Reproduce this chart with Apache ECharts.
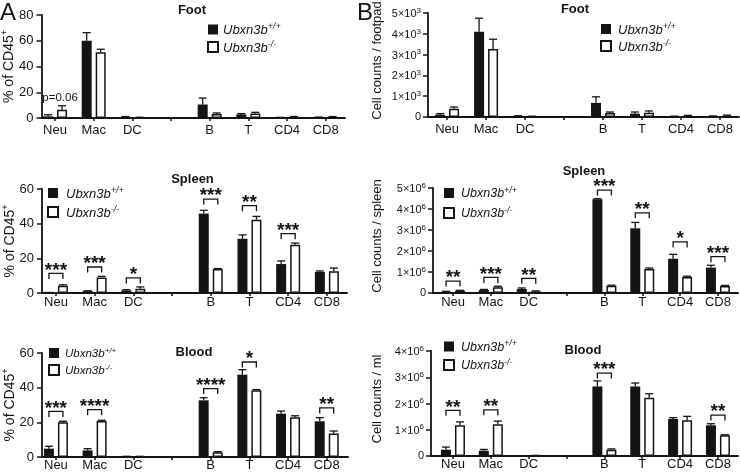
<!DOCTYPE html>
<html><head><meta charset="utf-8">
<script src="https://cdn.jsdelivr.net/npm/echarts@6/dist/echarts.min.js"></script>
<style>html,body{margin:0;padding:0;background:#fff}#c{width:740px;height:474px}</style>
</head><body><div id="c"></div>
<script>
// ---------- DATA ----------
const categories = ['Neu', 'Mac', 'DC', '', 'B', 'T', 'CD4', 'CD8'];
const genotypes = ['Ubxn3b+/+', 'Ubxn3b-/-'];

// Foot, % of CD45+
const footPctWT    = [1.3, 60, 0.8, 10.5, 2.8, 0.3, 0.5];
const footPctWTErr = [1.2, 6.3, 0.3, 5.0, 0.6, 0.2, 0.2];
const footPctKO    = [6.5, 51, 0.4, 3.1, 3.4, 0.9, 0.8];
const footPctKOErr = [3.0, 2.4, 0.2, 0.8, 1.0, 0.3, 0.3];
const footPctSig   = [['Neu', 15.5, 'p=0.06', false]];

// Foot, cell counts / footpad
const footCntWT    = [110, 4100, 50, 680, 160, 30, 40];
const footCntWTErr = [50, 650, 10, 290, 80, 10, 10];
const footCntKO    = [400, 3270, 30, 190, 210, 60, 70];
const footCntKOErr = [80, 470, 10, 50, 80, 20, 20];
const footCntSig   = [];

// Spleen, % of CD45+
const spleenPctWT    = [0.2, 1.1, 1.5, 45.8, 31.3, 16.7, 12.1];
const spleenPctWTErr = [0.1, 0.2, 0.4, 1.9, 2.2, 1.8, 0.6];
const spleenPctKO    = [4.2, 9.0, 2.5, 13.8, 42.3, 27.9, 12.5];
const spleenPctKOErr = [0.5, 0.6, 1.0, 0.3, 1.9, 0.9, 1.9];
const spleenPctSig   = [['Neu', 11.3, '***', true], ['Mac', 15, '***', true], ['DC', 8.7, '*', true],
                        ['B', 54.2, '***', true], ['T', 50.4, '**', true], ['CD4', 34.2, '***', true]];

// Spleen, cell counts / spleen
const spleenCntWT    = [0.06e6, 0.14e6, 0.19e6, 4.46e6, 3.08e6, 1.63e6, 1.21e6];
const spleenCntWTErr = [0.02e6, 0.03e6, 0.05e6, 0.03e6, 0.28e6, 0.21e6, 0.11e6];
const spleenCntKO    = [0.11e6, 0.27e6, 0.08e6, 0.35e6, 1.14e6, 0.76e6, 0.33e6];
const spleenCntKOErr = [0.02e6, 0.05e6, 0.02e6, 0.02e6, 0.05e6, 0.04e6, 0.03e6];
const spleenCntSig   = [['Neu', 0.57e6, '**', true], ['Mac', 0.74e6, '***', true], ['DC', 0.70e6, '**', true],
                        ['B', 4.9e6, '***', true], ['T', 3.82e6, '**', true], ['CD4', 2.43e6, '*', true],
                        ['CD8', 1.73e6, '***', true]];

// Blood, % of CD45+
const bloodPctWT    = [4.8, 3.8, 0.3, 32.7, 47.5, 25.0, 20.6];
const bloodPctWTErr = [1.4, 1.0, 0.1, 1.5, 2.9, 1.5, 2.1];
const bloodPctKO    = [20.0, 20.8, 0.3, 2.7, 38.5, 23.0, 13.5];
const bloodPctKOErr = [0.6, 0.4, 0.1, 0.4, 0.4, 0.8, 1.5];
const bloodPctSig   = [['Neu', 26.3, '***', true], ['Mac', 27.3, '****', true], ['B', 39.5, '****', true],
                       ['T', 54.8, '*', true], ['CD8', 28.3, '**', true]];

// Blood, cell counts / ml
const bloodCntWT    = [0.24e6, 0.20e6, 0.01e6, 2.65e6, 2.65e6, 1.41e6, 1.17e6];
const bloodCntWTErr = [0.10e6, 0.05e6, 0.005e6, 0.21e6, 0.13e6, 0.05e6, 0.06e6];
const bloodCntKO    = [1.17e6, 1.21e6, 0.02e6, 0.24e6, 2.22e6, 1.36e6, 0.79e6];
const bloodCntKOErr = [0.13e6, 0.12e6, 0.005e6, 0.03e6, 0.15e6, 0.15e6, 0.02e6];
const bloodCntSig   = [['Neu', 1.74e6, '**', true], ['Mac', 1.76e6, '**', true], ['B', 3.16e6, '***', true],
                       ['CD8', 1.56e6, '**', true]];

// ---------- LAYOUT ----------
const FONT = 'Liberation Sans, Arial, Helvetica, sans-serif';
const INK = '#141414';
const realIdx = categories.map((c, i) => c ? i : -1).filter(i => i >= 0);
const allIdx = categories.map((c, i) => i);

const panels = [
  {wt: footPctWT, wtErr: footPctWTErr, ko: footPctKO, koErr: footPctKOErr, sig: footPctSig,
   grid: {left: 41.5, top: 15, width: 303.5, height: 103}, xMin: -0.35, xMax: 7.5, yMax: 80, yInt: 20, exp: 0, xMargin: 6,
   yName: '{n|% of CD45}{s|+}', nameGap: 25, leg: {left: 207, top: 22, gap: 2.5, fs: 13, pad: 0},
   title: {text: 'Foot', x: 192, y: 10}},
  {wt: footCntWT, wtErr: footCntWTErr, ko: footCntKO, koErr: footCntKOErr, sig: footCntSig,
   grid: {left: 428, top: 13, width: 311, height: 104}, xMin: -0.49, xMax: 7.49, yMax: 5000, yInt: 1000, exp: 3, xMargin: 6,
   yName: 'Cell counts / footpad', nameGap: 44, leg: {left: 600, top: 21.5, gap: 2, fs: 13, pad: 2},
   title: {text: 'Foot', x: 575, y: 9.5}},
  {wt: spleenPctWT, wtErr: spleenPctWTErr, ko: spleenPctKO, koErr: spleenPctKOErr, sig: spleenPctSig,
   grid: {left: 42, top: 189, width: 305, height: 104}, xMin: -0.36, xMax: 7.52, yMax: 60, yInt: 20, exp: 0, xMargin: 3,
   yName: '{n|% of CD45}{s|+}', nameGap: 25, leg: {left: 47, top: 185.5, gap: 4, fs: 13, pad: 3},
   title: {text: 'Spleen', x: 192.5, y: 179}},
  {wt: spleenCntWT, wtErr: spleenCntWTErr, ko: spleenCntKO, koErr: spleenCntKOErr, sig: spleenCntSig,
   grid: {left: 433, top: 188, width: 305, height: 105}, xMin: -0.53, xMax: 7.53, yMax: 5e6, yInt: 1e6, exp: 6, xMargin: 3,
   yName: 'Cell counts / spleen', nameGap: 49, leg: {left: 443, top: 185.5, gap: 5, fs: 12.5, pad: 2},
   title: {text: 'Spleen', x: 584, y: 171}},
  {wt: bloodPctWT, wtErr: bloodPctWTErr, ko: bloodPctKO, koErr: bloodPctKOErr, sig: bloodPctSig,
   grid: {left: 42, top: 353, width: 306, height: 104}, xMin: -0.36, xMax: 7.55, yMax: 60, yInt: 20, exp: 0, xMargin: 1.5,
   yName: '{n|% of CD45}{s|+}', nameGap: 25, leg: {left: 48, top: 346.5, gap: 4, fs: 11.5, pad: 1},
   title: {text: 'Blood', x: 194, y: 352}},
  {wt: bloodCntWT, wtErr: bloodCntWTErr, ko: bloodCntKO, koErr: bloodCntKOErr, sig: bloodCntSig,
   grid: {left: 431, top: 351, width: 307, height: 105}, xMin: -0.58, xMax: 7.53, yMax: 4e6, yInt: 1e6, exp: 6, xMargin: 1.5,
   yName: 'Cell counts / ml', nameGap: 47, leg: {left: 443, top: 339, gap: 3.5, fs: 12.5, pad: 2},
   title: {text: 'Blood', x: 583, y: 350}}
];

const BAR_OFF = 7;
function errRender(offset) {
  return function (params, api) {
    const b = api.coord([api.value(0), api.value(1)]);
    const t = api.coord([api.value(0), api.value(2)]);
    const x = b[0] + offset;
    const st = {stroke: INK, lineWidth: 1.3, fill: null};
    return {type: 'group', children: [
      {type: 'line', shape: {x1: x, y1: b[1], x2: x, y2: t[1]}, style: st},
      {type: 'line', shape: {x1: x - 4, y1: t[1], x2: x + 4, y2: t[1]}, style: st}
    ]};
  };
}
function sigRender(list) {
  return function (params, api) {
    const p = api.coord([api.value(0), api.value(1)]);
    const item = list[params.dataIndex];
    const children = [];
    if (item[3]) {
      children.push({type: 'polyline', shape: {points: [[p[0] - BAR_OFF, p[1] + 5.5], [p[0] - BAR_OFF, p[1]], [p[0] + BAR_OFF, p[1]], [p[0] + BAR_OFF, p[1] + 5.5]]},
        style: {stroke: INK, lineWidth: 1.3, fill: null}});
      children.push({type: 'text', x: p[0], y: p[1] - 3,
        style: {text: item[2], align: 'center', verticalAlign: 'middle', fontFamily: FONT, fontWeight: 'bold', fontSize: 19, fill: INK}});
    } else {
      children.push({type: 'text', x: p[0] + 5, y: p[1],
        style: {text: item[2], align: 'center', verticalAlign: 'middle', fontFamily: FONT, fontSize: 11.5, fill: INK}});
    }
    return {type: 'group', children};
  };
}

const grids = [], xAxes = [], yAxes = [], series = [], legends = [], graphics = [];
graphics.push({type: 'text', x: 0, y: 1, style: {text: 'A', fontFamily: FONT, fontSize: 24, fill: INK, verticalAlign: 'top'}});
graphics.push({type: 'text', x: 357, y: 1, style: {text: 'B', fontFamily: FONT, fontSize: 24, fill: INK, verticalAlign: 'top'}});

panels.forEach((p, i) => {
  grids.push(Object.assign({containLabel: false, outerBoundsMode: 'none'}, p.grid));
  xAxes.push({
    type: 'value', gridIndex: i, min: p.xMin, max: p.xMax, splitLine: {show: false},
    axisLine: {show: true, onZero: false, lineStyle: {color: INK, width: 1.8}},
    axisTick: {show: true, customValues: allIdx, length: 3, lineStyle: {color: INK, width: 1.5}},
    axisLabel: {customValues: realIdx, formatter: v => categories[v], fontFamily: FONT, fontSize: 13, color: INK, margin: p.xMargin}
  });
  const yLabel = p.exp
    ? {formatter: v => v === 0 ? '{n|0}' : '{n|' + Math.round(v / Math.pow(10, p.exp)) + '×10}{s|' + p.exp + '}',
       rich: {n: {fontFamily: FONT, fontSize: 11, color: INK, verticalAlign: 'bottom'},
              s: {fontFamily: FONT, fontSize: 8, color: INK, verticalAlign: 'bottom', padding: [0, 0, 5, 0]}},
       margin: 7}
    : {fontFamily: FONT, fontSize: 13, color: INK, margin: 8};
  yAxes.push({
    type: 'value', gridIndex: i, min: 0, max: p.yMax, interval: p.yInt, splitLine: {show: false},
    axisLine: {show: true, onZero: false, lineStyle: {color: INK, width: 1.8}},
    axisTick: {show: true, length: 5, lineStyle: {color: INK, width: 1.5}},
    axisLabel: yLabel,
    name: p.yName, nameLocation: 'middle', nameGap: p.nameGap, nameMoveOverlap: false,
    nameTextStyle: {fontFamily: FONT, fontSize: p.exp ? 13 : 14, color: INK,
      padding: p.exp ? [0, 0, 0, 9] : 0,
      rich: {n: {fontFamily: FONT, fontSize: 14, color: INK, verticalAlign: 'bottom'},
             s: {fontFamily: FONT, fontSize: 9, color: INK, verticalAlign: 'bottom', padding: [0, 0, 7, 0]}}}
  });
  series.push({type: 'bar', name: genotypes[0], xAxisIndex: i, yAxisIndex: i, barWidth: 10, barGap: '40%',
    data: p.wt.map((v, k) => [realIdx[k], v]), itemStyle: {color: INK}, animation: false});
  series.push({type: 'bar', name: genotypes[1], xAxisIndex: i, yAxisIndex: i, barWidth: 10, barGap: '40%',
    data: p.ko.map((v, k) => [realIdx[k], v]), itemStyle: {color: '#fff', borderColor: INK, borderWidth: 1.5}, animation: false});
  series.push({type: 'custom', xAxisIndex: i, yAxisIndex: i, silent: true, z: 3, animation: false,
    data: p.wt.map((v, k) => [realIdx[k], v, v + p.wtErr[k]]), renderItem: errRender(-BAR_OFF)});
  series.push({type: 'custom', xAxisIndex: i, yAxisIndex: i, silent: true, z: 3, animation: false,
    data: p.ko.map((v, k) => [realIdx[k], v, v + p.koErr[k]]), renderItem: errRender(BAR_OFF)});
  if (p.sig.length) {
    series.push({type: 'custom', xAxisIndex: i, yAxisIndex: i, silent: true, z: 4, animation: false,
      data: p.sig.map(s => [categories.indexOf(s[0]), s[1]]), renderItem: sigRender(p.sig)});
  }
  const L = p.leg;
  legends.push({
    data: genotypes, orient: 'vertical', left: L.left, top: L.top, itemGap: L.gap, itemWidth: 10, itemHeight: 10,
    icon: 'rect', selectedMode: false, padding: 0,
    formatter: n => n.replace(/^(Ubxn3b)(.*)$/, '{i|$1}{s|$2}'),
    textStyle: {color: INK, rich: {
      i: {fontFamily: FONT, fontStyle: 'italic', fontSize: L.fs, color: INK, verticalAlign: 'bottom', padding: [0, 0, 0, L.pad]},
      s: {fontFamily: FONT, fontStyle: 'italic', fontSize: Math.round(L.fs * 0.68), color: INK, verticalAlign: 'bottom', padding: [0, 0, Math.round(L.fs * 0.45), 0]}
    }}
  });
  graphics.push({type: 'text', x: p.title.x, y: p.title.y,
    style: {text: p.title.text, align: 'center', verticalAlign: 'middle', fontFamily: FONT, fontWeight: 'bold', fontSize: 13, fill: INK}});
});

const chart = echarts.init(document.getElementById('c'), null, {renderer: 'canvas'});
chart.setOption({
  backgroundColor: '#fff', animation: false,
  textStyle: {fontFamily: FONT},
  grid: grids, xAxis: xAxes, yAxis: yAxes, series, legend: legends, graphic: graphics
});
</script></body></html>
